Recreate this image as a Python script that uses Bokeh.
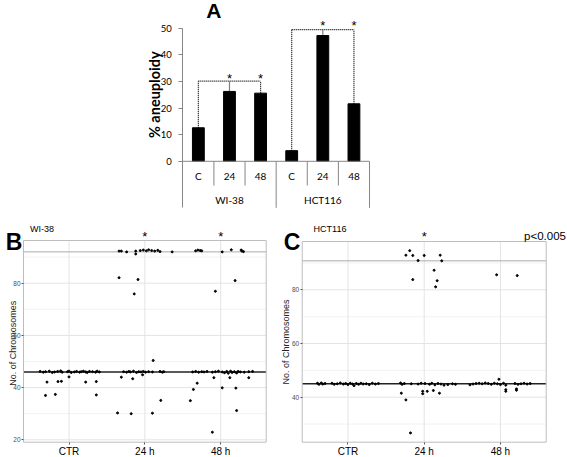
import math
from bokeh.plotting import figure
from bokeh.layouts import column, row
from bokeh.models import Range1d, FixedTicker
from bokeh.embed import file_html
from bokeh.resources import INLINE
from bokeh.core.properties import value

# ---------------- Panel A data ----------------
cell_lines = ["WI-38", "HCT116"]
timepoints = ["C", "24", "48"]
aneuploidy = [12.6, 26.25, 25.6, 4.0, 47.25, 21.6]   # % aneuploidy per bar
bracket_level = [30.1, 49.5]                         # dotted bracket height per cell line
star_level = [32.0, 52.0]                            # asterisk height per cell line
a_ticks = [0, 10, 20, 30, 40, 50]

# ---------------- Panel B data (WI-38) ----------------
categories = ["CTR", "24 h", "48 h"]
b_ticks = [20, 40, 60, 80]
b_minor = [30, 50, 70, 90]
b_modal, b_tetra = 46, 92
b_ctr_x = [0.62, 0.66, 0.69, 0.74, 0.78, 0.81, 0.85, 0.89, 0.91, 0.98, 1.00, 1.03, 1.07, 1.10,
           1.14, 1.16, 1.19, 1.22, 1.24, 1.27, 1.31, 1.35, 1.37, 1.40,
           0.71, 0.69, 0.82, 0.855, 0.90, 1.00, 1.22, 1.36, 1.36]
b_ctr_y = [46.2, 45.9, 46.1, 46.3, 45.8, 46.0, 46.2, 46.4, 45.9, 46.1, 46.3, 45.8, 46.0, 46.2,
           45.9, 46.1, 46.3, 46.0, 45.8, 46.2, 46.1, 45.9, 46.3, 46.0,
           42.1, 37.0, 37.4, 42.3, 42.4, 44.1, 42.1, 42.3, 37.2]
b_24_x = [1.66, 1.69, 1.76, 1.88, 1.88, 1.94, 1.98, 2.02, 2.05, 2.09, 2.13, 2.17, 2.20, 2.36,
          1.72, 1.76, 1.79, 1.81, 1.85, 1.89, 1.92, 1.95, 1.98, 2.01, 2.05, 2.10, 2.20, 2.23, 2.25,
          1.66, 1.91, 1.86, 2.11, 1.69, 1.84, 1.97, 1.64, 1.82, 2.10, 2.21]
b_24_y = [92.3, 92.3, 92.0, 92.3, 91.2, 92.5, 92.7, 92.4, 92.8, 92.5, 92.3, 92.6, 92.1, 92.0,
          46.1, 45.9, 46.2, 46.0, 46.3, 45.8, 46.1, 46.0, 46.2, 45.9, 46.1, 46.0, 46.2, 45.9, 46.1,
          82.1, 81.4, 75.9, 50.4, 44.0, 43.4, 44.9, 30.3, 30.0, 30.2, 35.1]
b_48_x = [2.67, 2.70, 2.73, 2.75, 3.02, 3.14, 3.27, 3.28, 3.30,
          2.63, 2.67, 2.71, 2.75, 2.78, 2.82, 2.89, 2.93, 2.97, 3.02, 3.05, 3.08, 3.10, 3.13,
          3.15, 3.18, 3.21, 3.23, 3.26, 3.31, 3.37, 3.42,
          2.93, 3.19, 2.69, 2.64, 2.60, 2.91, 3.02, 3.12, 3.20, 3.37, 3.21, 2.89]
b_48_y = [92.4, 92.7, 92.5, 92.4, 92.0, 92.8, 92.7, 92.3, 92.1,
          46.0, 46.2, 45.9, 46.1, 46.0, 46.2, 45.9, 46.1, 46.3, 46.0, 45.7, 46.2, 45.5, 46.3,
          45.8, 46.1, 45.6, 46.2, 46.0, 45.9, 46.1, 46.2,
          76.9, 81.0, 41.7, 39.3, 35.0, 43.8, 39.9, 43.8, 39.8, 43.8, 31.2, 22.9]

# ---------------- Panel C data (HCT116) ----------------
c_ticks = [40, 60, 80]
c_minor = [30, 50, 70, 90]
c_modal, c_tetra = 45, 90.8
c_ctr_x = [0.60, 0.62, 0.65, 0.67, 0.70, 0.79, 0.82, 0.86, 0.90, 0.94, 0.97, 1.00, 1.03, 1.06,
           1.08, 1.11, 1.14, 1.17, 1.20, 1.24, 1.28, 1.32, 1.36, 1.40]
c_ctr_y = [45.2, 44.8, 45.3, 44.9, 45.1, 45.2, 44.8, 45.0, 45.3, 44.9, 45.1, 44.7, 45.2, 44.9,
           44.3, 45.1, 44.8, 45.2, 44.9, 45.0, 44.7, 45.2, 44.9, 45.1]
c_24_x = [1.81, 1.76, 1.85, 1.92, 2.00, 2.21, 2.23, 1.85, 2.13, 2.17, 2.15,
          1.69, 1.71, 1.74, 1.83, 1.92, 1.96, 2.01, 2.07, 2.10, 2.14, 2.18, 2.22, 2.26, 2.31, 2.37, 2.41,
          1.70, 1.76, 1.98, 1.98, 2.04, 2.12, 2.20, 1.82]
c_24_y = [94.6, 92.9, 92.8, 90.9, 92.8, 92.9, 90.8, 83.8, 87.3, 83.4, 81.1,
          45.3, 44.8, 45.1, 45.0, 44.9, 45.2, 45.1, 44.8, 45.2, 44.6, 45.1, 44.9, 44.5, 44.7, 45.0, 44.8,
          41.5, 39.0, 42.2, 41.3, 42.2, 42.5, 41.5, 26.7]
c_48_x = [2.60, 2.64, 2.68, 2.72, 2.76, 2.80, 2.84, 2.88, 2.92, 2.96, 3.00, 3.04, 3.07, 3.19,
          3.23, 3.27, 3.31, 3.35, 3.39,
          2.95, 3.22, 2.98, 3.07, 3.07, 3.21, 3.21]
c_48_y = [44.6, 44.9, 45.1, 45.2, 45.0, 45.3, 45.1, 44.8, 45.2, 45.0, 44.7, 45.2, 44.5, 45.1,
          44.8, 45.0, 45.2, 44.9, 45.1,
          85.6, 85.3, 46.7, 42.8, 42.2, 43.1, 42.6]

FA = "Lato"
FB = "Liberation Sans"


def fit_ranges(fig_w, fig_h, px_box, data_box):
    """Ranges so that data_box lands on px_box (left, right, top, bottom in figure pixels)."""
    l, r, t, b = px_box
    x0, x1, y0, y1 = data_box
    sx = (r - l) / (x1 - x0)
    sy = (b - t) / (y1 - y0)
    return (Range1d(x0 - l / sx, x1 + (fig_w - r) / sx),
            Range1d(y0 - (fig_h - b) / sy, y1 + t / sy))


def txt(p, x, y, s, font, size, **kw):
    p.text(x=[x], y=[y], text=[s], text_font=value(font), text_font_size=size,
           text_align=kw.pop("align", "center"), text_baseline=kw.pop("baseline", "middle"), **kw)


# =============== Panel A ===============
n = len(aneuploidy)
ng, nt = len(cell_lines), len(timepoints)
xs = [i + 0.5 for i in range(n)]
AW, AH = 567, 218
xr, yr = fit_ranges(AW, AH, (182.3, 369.0, 27.7, 160.8), (0, n, 0, max(a_ticks)))
pa = figure(width=AW, height=AH, x_range=xr, y_range=yr, output_backend="svg",
            toolbar_location=None, x_axis_location=None, min_border=0)
pa.outline_line_color = None
pa.grid.visible = False
table_bottom, row_bottom = -17.5, -9.1
ya = pa.yaxis[0]
ya.fixed_location = 0
ya.ticker = FixedTicker(ticks=a_ticks)
ya.bounds = (table_bottom, max(a_ticks))
ya.axis_line_color = "#868686"
ya.major_tick_line_color = "#868686"
ya.major_tick_out = 4
ya.major_tick_in = 0
ya.minor_tick_line_color = None
ya.major_label_standoff = 7
ya.major_label_text_font = FA
ya.major_label_text_font_size = "9.5px"
ya.major_label_text_color = "#000000"

pa.vbar(x=xs, top=aneuploidy, bottom=0, width=0.38, color="black")

tx0 = [0]; ty0 = [0]; tx1 = [n]; ty1 = [0]
for i in range(1, n + 1):
    tx0.append(i); tx1.append(i); ty0.append(0)
    ty1.append(table_bottom if i % nt == 0 else row_bottom)
pa.segment(x0=tx0, y0=ty0, x1=tx1, y1=ty1, line_color="#868686", line_width=1)

pa.text(x=xs, y=[-5.6] * n, text=timepoints * ng, text_align="center", text_baseline="middle",
        text_font=value(FA), text_font_size="10px", text_color="black")
gx = [g * nt + nt / 2 for g in range(ng)]
pa.text(x=gx, y=[-14.7] * ng, text=cell_lines, text_align="center", text_baseline="middle",
        text_font=value(FA), text_font_size="10px", text_color="black")

sx0, sy0, sx1, sy1 = [], [], [], []
for g in range(ng):
    lvl = bracket_level[g]
    sx0.append(xs[g * nt]); sx1.append(xs[g * nt + nt - 1]); sy0.append(lvl); sy1.append(lvl)
    for t in range(nt):
        k = g * nt + t
        sx0.append(xs[k]); sx1.append(xs[k]); sy0.append(aneuploidy[k]); sy1.append(lvl)
pa.segment(x0=sx0, y0=sy0, x1=sx1, y1=sy1, line_color="black", line_width=1.2, line_dash="1 1")
stx, sty = [], []
for g in range(ng):
    for t in range(1, nt):
        stx.append(xs[g * nt + t]); sty.append(star_level[g] - 1.0)
pa.text(x=stx, y=sty, text=["*"] * len(stx), text_align="center", text_baseline="middle",
        text_font=value(FB), text_font_size="13px", text_color="black")
txt(pa, 1.0, 56.5, "A", FB, "21px", text_font_style="bold", text_color="black")
txt(pa, -0.9, 25, "% aneuploidy", FA, "14.5px", angle=math.pi / 2,
    text_font_style="bold", text_color="black")


def scatter_panel(fig_w, px_box, data_box, ticks, minor, modal, tetra, groups):
    FH = 239
    xr, yr = fit_ranges(fig_w, FH, px_box, data_box)
    x0, x1, y0, y1 = data_box
    p = figure(width=fig_w, height=FH, x_range=xr, y_range=yr, output_backend="svg",
               toolbar_location=None, min_border=0)
    p.outline_line_color = None
    p.grid.visible = False
    cat_pos = list(range(1, len(categories) + 1))
    # grid lines
    p.segment(x0=[x0] * len(minor), x1=[x1] * len(minor), y0=minor, y1=minor,
              line_color="#F2F2F2", line_width=1)
    p.segment(x0=[x0] * len(ticks), x1=[x1] * len(ticks), y0=ticks, y1=ticks,
              line_color="#E4E4E4", line_width=1)
    p.segment(x0=cat_pos, x1=cat_pos, y0=[y0] * len(cat_pos), y1=[y1] * len(cat_pos),
              line_color="#E4E4E4", line_width=1)
    # reference lines
    p.segment(x0=[x0], x1=[x1], y0=[tetra], y1=[tetra], line_color="#ABABAB", line_width=1)
    p.segment(x0=[x0], x1=[x1], y0=[modal], y1=[modal], line_color="#222222", line_width=1.5)
    # panel border
    p.quad(left=[x0], right=[x1], bottom=[y0], top=[y1], fill_color=None,
           line_color="#BDBDBD", line_width=1)
    for gx_, gy_ in groups:
        p.scatter(x=gx_, y=gy_, size=2.0, color="black")
    xa = p.xaxis[0]
    xa.fixed_location = y0
    xa.ticker = FixedTicker(ticks=cat_pos)
    xa.major_label_overrides = {i + 1: c for i, c in enumerate(categories)}
    xa.axis_line_color = None
    xa.major_tick_line_color = "#555555"
    xa.major_tick_out = 2
    xa.major_tick_in = 0
    xa.minor_tick_line_color = None
    xa.major_label_standoff = 2
    xa.major_label_text_font = FB
    xa.major_label_text_font_size = "10px"
    xa.major_label_text_color = "black"
    ya = p.yaxis[0]
    ya.fixed_location = x0
    ya.ticker = FixedTicker(ticks=ticks)
    ya.axis_line_color = None
    ya.major_tick_line_color = "#555555"
    ya.major_tick_out = 2
    ya.major_tick_in = 0
    ya.minor_tick_line_color = None
    ya.major_label_standoff = 1
    ya.major_label_text_font = FB
    ya.major_label_text_font_size = "6.5px"
    ya.major_label_text_color = "#4D4D4D"
    return p


pb = scatter_panel(280, (23.0, 265.7, 22.0, 223.7), (0.4, 3.6, 19.08, 96.36), b_ticks, b_minor,
                   b_modal, b_tetra, [(b_ctr_x, b_ctr_y), (b_24_x, b_24_y), (b_48_x, b_48_y)])
txt(pb, 0.275, 95.8, "B", FB, "23px", text_font_style="bold", text_color="black")
txt(pb, 0.644, 100.8, "WI-38", FB, "9px", text_color="black")
pb.text(x=[2, 3], y=[97.9, 97.9], text=["*", "*"], text_align="center", text_baseline="middle",
        text_font=value(FB), text_font_size="13px", text_color="black")
txt(pb, 0.268, 57.0, "No. of Chromosomes", FB, "9px", angle=math.pi / 2, text_color="#222222")

pc = scatter_panel(287, (21.7, 265.7, 23.0, 223.7), (0.4, 3.6, 23.24, 98.0), c_ticks, c_minor,
                   c_modal, c_tetra, [(c_ctr_x, c_ctr_y), (c_24_x, c_24_y), (c_48_x, c_48_y)])
txt(pc, 0.266, 97.8, "C", FB, "23px", text_font_style="bold", text_color="black")
txt(pc, 0.765, 102.8, "HCT116", FB, "9px", text_color="black")
txt(pc, 2, 99.9, "*", FB, "13px", text_color="black")
txt(pc, 3.584, 100.05, "p<0.005", FB, "11.5px", text_color="black")
txt(pc, 0.194, 60.6, "No. of Chromosomes", FB, "9px", angle=math.pi / 2, text_color="#222222")

layout = column(pa, row(pb, pc))
open("out.html", "w").write(file_html(layout, INLINE))
